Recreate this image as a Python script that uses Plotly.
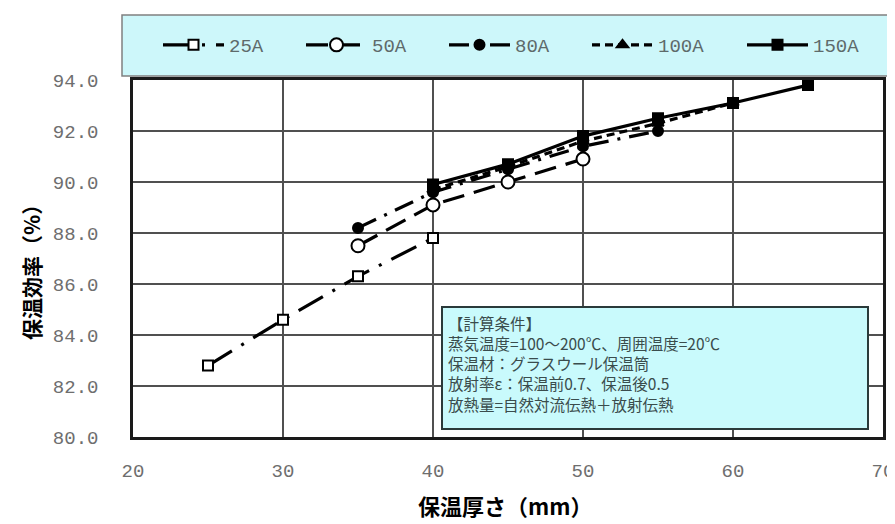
import plotly.graph_objects as go

# ---- data ----
series_names = ["25A", "50A", "80A", "100A", "150A"]
x_25A = [25, 30, 35, 40]
y_25A = [82.8, 84.6, 86.3, 87.8]
x_50A = [35, 40, 45, 50]
y_50A = [87.5, 89.1, 90.0, 90.9]
x_80A = [35, 40, 45, 50, 55]
y_80A = [88.2, 89.6, 90.5, 91.4, 92.0]
x_100A = [40, 45, 50, 55, 60]
y_100A = [89.7, 90.6, 91.6, 92.3, 93.1]
x_150A = [40, 45, 50, 55, 60, 65]
y_150A = [89.9, 90.7, 91.8, 92.5, 93.1, 93.8]

x_ticks = [20, 30, 40, 50, 60, 70]
y_ticks = [80, 82, 84, 86, 88, 90, 92, 94]

x_title = "保温厚さ（mm）"
y_title = "保温効率（%）"
note_lines = [
    "【計算条件】",
    "蒸気温度=100～200℃、周囲温度=20℃",
    "保温材：グラスウール保温筒",
    "放射率ε：保温前0.7、保温後0.5",
    "放熱量=自然対流伝熱＋放射伝熱",
]

# ---- layout geometry (page pixels; the page body has an 8px margin) ----
OFF = 8
W, H = 887, 516
PLOT_L, PLOT_R, PLOT_T, PLOT_B = 133, 883, 80, 437
ML = PLOT_L - OFF
MT = PLOT_T - OFF
PW = PLOT_R - PLOT_L
PH = PLOT_B - PLOT_T
MR = W - ML - PW
MB = H - MT - PH

def px_x(p):
    return (p - PLOT_L) / PW

def px_y(p):
    return (PLOT_B - p) / PH

tick_font = dict(family="Liberation Mono", size=19, color="#6e6e6e")
cjk = "Noto Sans CJK JP"

styles = {
    "25A": dict(dash="28px,11px,3px,11px", symbol="square", size=10, fill="white", legend="legend"),
    "50A": dict(dash="22px,10px", symbol="circle", size=13, fill="white", legend="legend"),
    "80A": dict(dash="20px,9px,3px,9px", symbol="circle", size=10, fill="black", legend="legend"),
    "100A": dict(dash="8px,5px", symbol="triangle-up", size=10, fill="black", legend="legend"),
    "150A": dict(dash="solid", symbol="square", size=10, fill="black", legend="legend2"),
}
data = {
    "25A": (x_25A, y_25A),
    "50A": (x_50A, y_50A),
    "80A": (x_80A, y_80A),
    "100A": (x_100A, y_100A),
    "150A": (x_150A, y_150A),
}

fig = go.Figure()
for name in series_names:
    xs, ys = data[name]
    st = styles[name]
    fig.add_trace(go.Scatter(
        x=xs, y=ys, name=name, mode="lines+markers", legend=st["legend"],
        line=dict(color="black", width=3.2, dash=st["dash"]),
        marker=dict(symbol=st["symbol"], size=st["size"], color=st["fill"],
                    line=dict(color="black", width=2)),
    ))

# legend background box
fig.add_shape(type="rect", xref="paper", yref="paper",
              x0=px_x(122), x1=px_x(892), y0=px_y(76), y1=px_y(15),
              fillcolor="#cdf7fa", line=dict(color="#808080", width=1.5), layer="below")

# note box
fig.add_shape(type="rect", xref="paper", yref="paper",
              x0=px_x(442), x1=px_x(868), y0=px_y(429), y1=px_y(307),
              fillcolor="#c9fafc", line=dict(color="#2a3a3a", width=2), layer="above")

fig.add_annotation(text="<br>".join(note_lines), xref="paper", yref="paper",
                   x=px_x(446), y=px_y(310), xanchor="left", yanchor="top",
                   align="left", showarrow=False,
                   font=dict(family=cjk, size=15.5, color="#3a4c4c"))

# axis titles
fig.add_annotation(text=x_title, xref="paper", yref="paper",
                   x=px_x(505), y=px_y(505), xanchor="center", yanchor="middle",
                   showarrow=False, font=dict(family=cjk, size=22, color="black", weight="bold"))
fig.add_annotation(text=y_title, xref="paper", yref="paper",
                   x=px_x(31), y=px_y(267), xanchor="center", yanchor="middle",
                   textangle=-90, showarrow=False,
                   font=dict(family=cjk, size=21, color="black", weight="bold"))

legend_common = dict(orientation="h", xanchor="left", yanchor="middle",
                     bgcolor="rgba(0,0,0,0)", borderwidth=0,
                     font=dict(family="Liberation Mono", size=19, color="#5e6a6a"),
                     itemwidth=61, entrywidth=67, entrywidthmode="pixels",
                     itemclick=False, itemdoubleclick=False)

fig.update_layout(
    width=W, height=H,
    margin=dict(l=ML, r=MR, t=MT, b=MB, autoexpand=False),
    paper_bgcolor="white", plot_bgcolor="white",
    showlegend=True,
    legend=dict(x=px_x(158), y=px_y(45), **legend_common),
    legend2=dict(x=px_x(742), y=px_y(45), **legend_common),
    xaxis=dict(range=[20, 70], tickvals=x_ticks, ticktext=[str(v) for v in x_ticks],
               showgrid=True, gridcolor="#505050", gridwidth=1.5,
               showline=True, linecolor="#1a1a1a", linewidth=2.5, mirror=True,
               zeroline=False, ticks="", tickfont=tick_font, ticklabelstandoff=14,
               ticklabeloverflow="allow"),
    yaxis=dict(range=[80, 94], tickvals=y_ticks, ticktext=[f"{v:.1f}" for v in y_ticks],
               showgrid=True, gridcolor="#505050", gridwidth=1.5,
               showline=True, linecolor="#1a1a1a", linewidth=2.5, mirror=True,
               zeroline=False, ticks="", tickfont=tick_font, ticklabelstandoff=28),
)

fig.write_html("out.html")
